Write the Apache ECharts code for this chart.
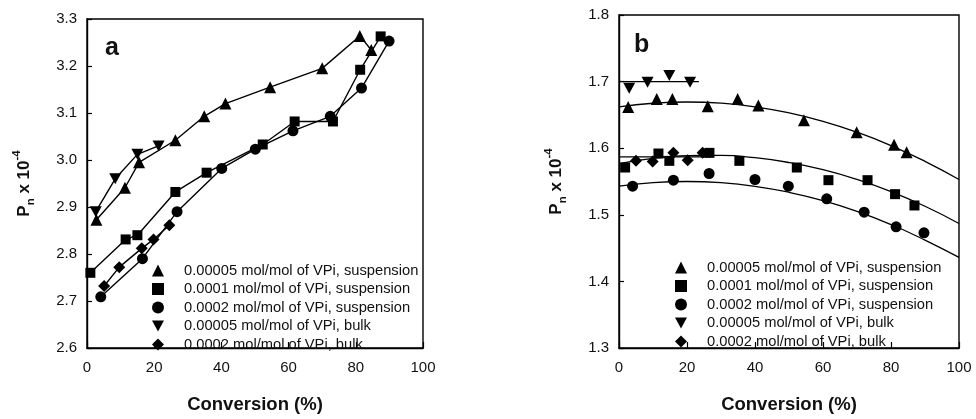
<!DOCTYPE html>
<html>
<head>
<meta charset="utf-8">
<script src="https://cdn.jsdelivr.net/npm/echarts@6/dist/echarts.min.js"></script>
<style>
html,body{margin:0;padding:0;background:#fff;}
#c{width:976px;height:419px;}
</style>
</head>
<body>
<div id="c"></div>
<script>
// ---------- Data ----------
var seriesNames = [
  '0.00005 mol/mol of VPi, suspension',
  '0.0001 mol/mol of VPi, suspension',
  '0.0002 mol/mol of VPi, suspension',
  '0.00005 mol/mol of VPi, bulk',
  '0.0002 mol/mol of VPi, bulk'
];
var xTicks = [0, 20, 40, 60, 80, 100];

// Panel a
var a_tri_x = [2.8, 11.3, 15.5, 26.3, 34.9, 41.2, 54.5, 70, 81.2, 84.6];
var a_tri_y = [2.873, 2.941, 2.995, 3.042, 3.093, 3.12, 3.155, 3.195, 3.264, 3.234];
var a_sq_x = [1, 11.5, 15, 26.3, 35.6, 52.3, 61.8, 73.2, 81.3, 87.4];
var a_sq_y = [2.76, 2.831, 2.84, 2.932, 2.973, 3.033, 3.082, 3.082, 3.192, 3.263];
var a_ci_x = [4.1, 16.5, 26.8, 40.1, 50.1, 61.3, 72.4, 81.7, 89.9];
var a_ci_y = [2.709, 2.79, 2.89, 2.982, 3.023, 3.062, 3.093, 3.153, 3.253];
var a_inv_x = [2.6, 8.4, 15, 21.3];
var a_inv_y = [2.89, 2.96, 3.012, 3.03];
var a_di_x = [5.1, 9.6, 16.3, 19.8, 24.5];
var a_di_y = [2.732, 2.772, 2.812, 2.831, 2.861];

// Panel b points
var b_tri_x = [2.7, 11.1, 15.7, 26.1, 34.9, 41, 54.4, 69.9, 80.9, 84.6];
var b_tri_y = [1.662, 1.674, 1.674, 1.663, 1.674, 1.664, 1.642, 1.624, 1.605, 1.594];
var b_sq_x = [1.8, 11.6, 14.8, 26.6, 35.4, 52.3, 61.6, 73.1, 81.2, 86.9];
var b_sq_y = [1.571, 1.592, 1.581, 1.593, 1.581, 1.571, 1.552, 1.552, 1.531, 1.514];
var b_ci_x = [4, 16, 26.5, 40, 49.8, 61.1, 72.1, 81.5, 89.7];
var b_ci_y = [1.543, 1.552, 1.562, 1.553, 1.543, 1.524, 1.504, 1.482, 1.473];
var b_inv_x = [3, 8.4, 14.8, 20.9];
var b_inv_y = [1.69, 1.699, 1.709, 1.699];
var b_di_x = [5, 9.9, 16, 20.2, 24.6];
var b_di_y = [1.581, 1.58, 1.593, 1.582, 1.593];

// Panel b fitted curves
var fit_x = [0, 10, 20, 30, 40, 50, 60, 70, 80, 90, 100];
var fit_tri_y = [1.662, 1.6675, 1.6694, 1.6676, 1.6622, 1.6531, 1.6404, 1.624, 1.604, 1.5803, 1.553];
var fit_sq_y = [1.577, 1.5848, 1.5888, 1.5891, 1.5857, 1.5785, 1.5677, 1.5531, 1.5348, 1.5128, 1.487];
var fit_ci_y = [1.543, 1.5483, 1.55, 1.5482, 1.5428, 1.5338, 1.5212, 1.5051, 1.4854, 1.4621, 1.436];
var fit_inv_x = [0, 23.5];
var fit_inv_y = [1.70, 1.70];
var fit_di_x = [0, 27];
var fit_di_y = [1.587, 1.587];

// ---------- Helpers ----------
function pairs(xs, ys) { return xs.map(function (x, i) { return [x, ys[i]]; }); }
var FONT = 'Liberation Sans, Arial, Helvetica, sans-serif';
var INV_TRI = 'path://M0,0 L10,0 L5,9 Z';
var symbols = ['triangle', 'rect', 'circle', INV_TRI, 'diamond'];
var symSizes = [12, 10, 11, 12, 12];

function pointSeries(idx, grid, xs, ys, withLine) {
  return {
    name: seriesNames[idx],
    type: 'line',
    xAxisIndex: grid, yAxisIndex: grid,
    data: pairs(xs, ys),
    symbol: symbols[idx],
    symbolSize: idx === 3 ? [12, 11] : symSizes[idx],
    showSymbol: true,
    itemStyle: { color: '#000' },
    lineStyle: { color: '#000', width: withLine ? 1.4 : 0, opacity: withLine ? 1 : 0 },
    animation: false,
    z: 3
  };
}
function fitSeries(name, grid, xs, ys) {
  return {
    name: name, type: 'line', xAxisIndex: grid, yAxisIndex: grid,
    data: pairs(xs, ys), symbol: 'none', smooth: true,
    lineStyle: { color: '#000', width: 1.3 }, animation: false, z: 2
  };
}

var axisLabelStyle = { color: '#111', fontSize: 15, fontFamily: FONT };
function xAxis(grid) {
  return {
    type: 'value', gridIndex: grid, min: xTicks[0], max: xTicks[xTicks.length - 1], interval: 20,
    axisLine: { lineStyle: { color: '#000', width: 1.4 } },
    axisTick: { inside: true, length: 6, lineStyle: { color: '#000', width: 1.2 } },
    axisLabel: Object.assign({ margin: 12 }, axisLabelStyle),
    splitLine: { show: false },
    name: 'Conversion (%)', nameLocation: 'middle', nameGap: 47,
    nameTextStyle: { fontSize: 18.5, fontWeight: 'bold', color: '#111', fontFamily: FONT }
  };
}
var yNameRich = {
  b: { fontSize: 17, fontWeight: 'bold', fontFamily: FONT, color: '#111', lineHeight: 26, verticalAlign: 'middle' },
  sub: { fontSize: 11.5, fontWeight: 'bold', fontFamily: FONT, color: '#111', lineHeight: 26, verticalAlign: 'bottom' },
  sup: { fontSize: 11.5, fontWeight: 'bold', fontFamily: FONT, color: '#111', lineHeight: 26, verticalAlign: 'top' }
};
function yAxis(grid, min, max) {
  return {
    type: 'value', gridIndex: grid, min: min, max: max, interval: 0.1,
    axisLine: { lineStyle: { color: '#000', width: 1.4 } },
    axisTick: { inside: true, length: 5, lineStyle: { color: '#000', width: 1.2 } },
    axisLabel: Object.assign({ margin: 10, formatter: function (v) { return v.toFixed(1); } }, axisLabelStyle),
    splitLine: { show: false },
    name: '{b|P}{sub|n}{b| x 10}{sup|-4}', nameLocation: 'middle', nameRotate: 90, nameGap: 50,
    nameTextStyle: { rich: yNameRich }
  };
}

function legend(left, top) {
  return {
    orient: 'vertical', left: left, top: top, padding: 0,
    itemWidth: 12, itemHeight: 12, itemGap: 3.5,
    selectedMode: false,
    textStyle: { fontSize: 14.7, color: '#111', fontFamily: FONT, lineHeight: 14, padding: [0, 0, 0, 15] },
    data: seriesNames.map(function (n, i) {
      return { name: n, icon: symbols[i], itemStyle: { color: '#000' } };
    })
  };
}

var option = {
  backgroundColor: '#fff',
  animation: false,
  grid: [
    { left: 87, top: 19, width: 336, height: 335, show: true, borderColor: '#000', borderWidth: 1.4, backgroundColor: 'transparent' },
    { left: 619, top: 15, width: 340, height: 338, show: true, borderColor: '#000', borderWidth: 1.4, backgroundColor: 'transparent' }
  ],
  xAxis: [xAxis(0), xAxis(1)],
  yAxis: [yAxis(0, 2.6, 3.3), yAxis(1, 1.3, 1.8)],
  legend: [legend(152, 263), legend(675, 260)],
  graphic: [
    { type: 'text', left: 105, top: 36, style: { text: 'a', fontSize: 25, fontWeight: 'bold', fontFamily: FONT, fill: '#111' } },
    { type: 'text', left: 634, top: 33, style: { text: 'b', fontSize: 25, fontWeight: 'bold', fontFamily: FONT, fill: '#111' } }
  ],
  series: [
    pointSeries(0, 0, a_tri_x, a_tri_y, true),
    pointSeries(1, 0, a_sq_x, a_sq_y, true),
    pointSeries(2, 0, a_ci_x, a_ci_y, true),
    pointSeries(3, 0, a_inv_x, a_inv_y, true),
    pointSeries(4, 0, a_di_x, a_di_y, true),
    pointSeries(0, 1, b_tri_x, b_tri_y, false),
    pointSeries(1, 1, b_sq_x, b_sq_y, false),
    pointSeries(2, 1, b_ci_x, b_ci_y, false),
    pointSeries(3, 1, b_inv_x, b_inv_y, false),
    pointSeries(4, 1, b_di_x, b_di_y, false),
    fitSeries('fit_tri', 1, fit_x, fit_tri_y),
    fitSeries('fit_sq', 1, fit_x, fit_sq_y),
    fitSeries('fit_ci', 1, fit_x, fit_ci_y),
    fitSeries('fit_inv', 1, fit_inv_x, fit_inv_y),
    fitSeries('fit_di', 1, fit_di_x, fit_di_y)
  ]
};
var chart = echarts.init(document.getElementById('c'), null, { renderer: 'canvas' });
chart.setOption(option);
</script>
</body>
</html>
